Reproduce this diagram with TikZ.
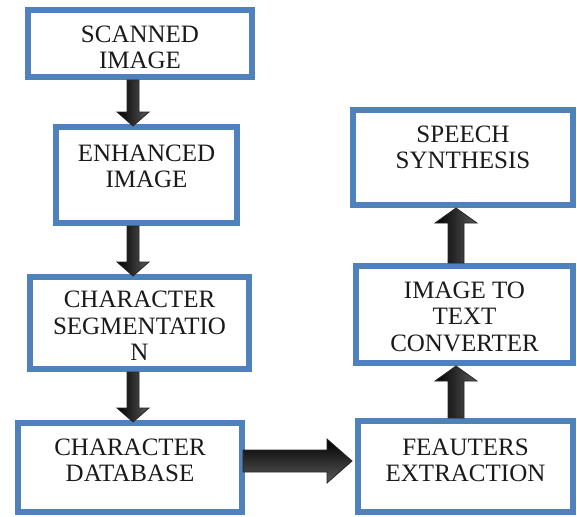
\documentclass[tikz,border=0pt]{standalone}
\usepackage{fontspec}
\setmainfont{Liberation Serif}
\usetikzlibrary{calc}
\definecolor{boxblue}{HTML}{4F81BD}
\definecolor{txt}{HTML}{1A1A1A}
\tikzset{
  box/.style={draw=boxblue, line width=6pt, fill=white, rectangle, inner sep=0pt},
  lbl/.style={anchor=north, inner sep=0pt, align=center, text=txt,
     font=\fontsize{25}{26.5}\selectfont},
  vshade/.style={left color=black, right color=black!65, draw=black!85, line width=0.8pt},
  hshade/.style={top color=black, bottom color=black!65, draw=black!85, line width=0.8pt}
}
\begin{document}
\begin{tikzpicture}[x=1pt,y=-1pt]
\useasboundingbox (0,0) rectangle (577,516);
% boxes
\node[box, minimum width=224pt, minimum height=67pt] (b1) at (140,43.5) {};
\node[box, minimum width=181pt, minimum height=96pt] (b2) at (146.5,175) {};
\node[box, minimum width=219pt, minimum height=92pt] (b3) at (139.5,323) {};
\node[box, minimum width=224pt, minimum height=89pt] (b4) at (130,467.5) {};
\node[box, minimum width=220pt, minimum height=95pt] (b5) at (463,157.5) {};
\node[box, minimum width=217pt, minimum height=97pt] (b6) at (464.5,314.5) {};
\node[box, minimum width=215pt, minimum height=91pt] (b7) at (465.5,466.5) {};
% labels
\node[lbl] (t1) at ($(b1.north)+(0,18.5)$) {SCANNED\\IMAGE};
\node[lbl] (t2) at ($(b2.north)+(0,20.5)$) {ENHANCED\\IMAGE};
\node[lbl] (t3) at ($(b3.north)+(0,17)$) {CHARACTER\\SEGMENTATIO\\N};
\node[lbl] (t4) at ($(b4.north)+(0,18.5)$) {CHARACTER\\DATABASE};
\node[lbl] (t5) at ($(b5.north)+(0,18.5)$) {SPEECH\\SYNTHESIS};
\node[lbl] (t6) at ($(b6.north)+(0,18.5)$) {IMAGE TO\\TEXT\\CONVERTER};
\node[lbl] (t7) at ($(b7.north)+(0,20.5)$) {FEAUTERS\\EXTRACTION};
% down arrows (left column)
\foreach \a/\b in {b1/b2, b2/b3, b3/b4}{
  \path let \p1=(\a.south), \p2=(\b.north) in
    [vshade] (127pt,\y1) -- (127pt,\y2+12pt) -- (117pt,\y2+12pt) -- (133pt,\y2-2pt)
    -- (149pt,\y2+12pt) -- (139pt,\y2+12pt) -- (139pt,\y1) -- cycle;
}
% up arrows (right column)
\foreach \a/\b in {b7/b6, b6/b5}{
  \path let \p1=(\a.north), \p2=(\b.south) in
    [vshade] (448pt,\y1) -- (448pt,\y2-15pt) -- (435pt,\y2-15pt) -- (456pt,\y2)
    -- (477pt,\y2-15pt) -- (464pt,\y2-15pt) -- (464pt,\y1) -- cycle;
}
% horizontal arrow
\path let \p1=(b4.east), \p2=(b7.west) in
  [hshade] (\x1-2pt,-450pt) -- (\x2-28pt,-450pt) -- (\x2-28pt,-439pt) -- (\x2-3pt,-461pt)
  -- (\x2-28pt,-483pt) -- (\x2-28pt,-472pt) -- (\x1-2pt,-472pt) -- cycle;
\end{tikzpicture}
\end{document}
